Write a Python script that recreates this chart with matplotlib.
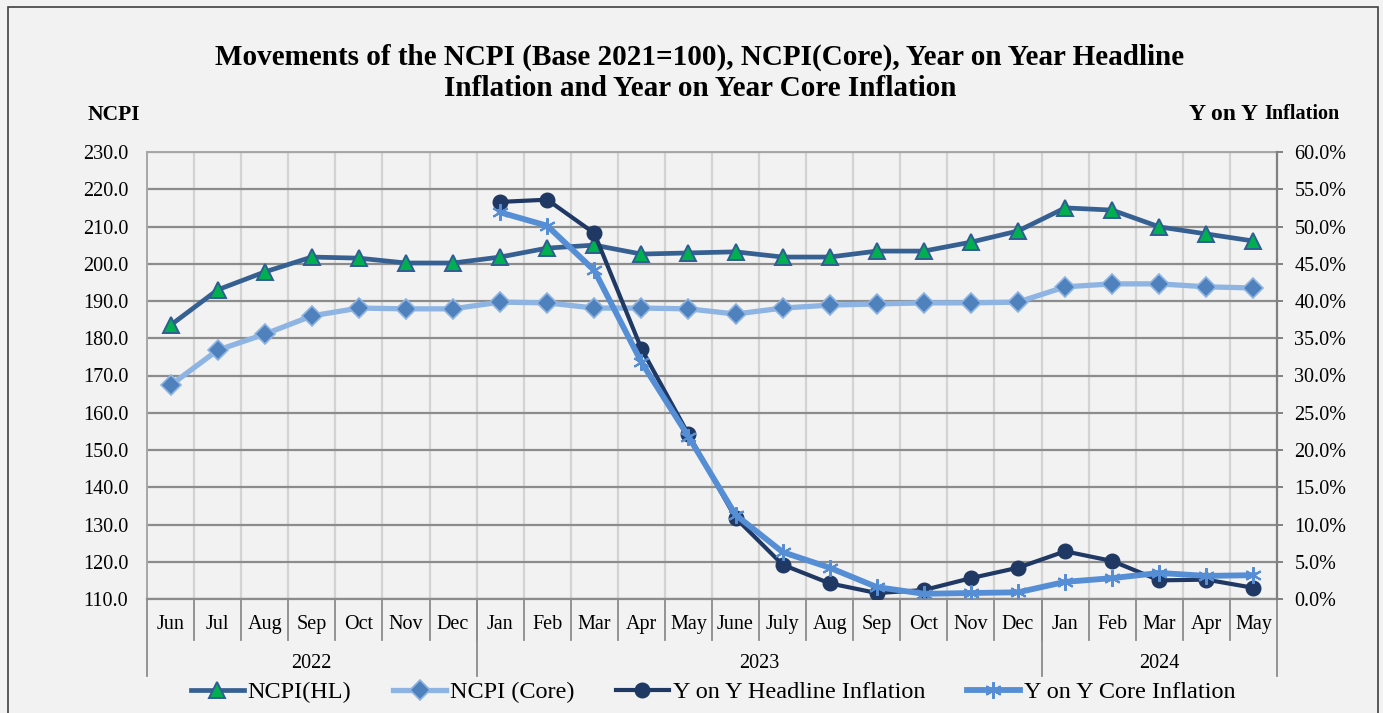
"""NCPI / YoY inflation chart, Excel-like two-axis line chart with grouped month axis."""
import numpy as np
import matplotlib
matplotlib.use("Agg")
import matplotlib.pyplot as plt
from matplotlib.patches import Rectangle

plt.rcParams["font.family"] = ["Liberation Serif", "DejaVu Serif"]

MONTHS = ["Jun", "Jul", "Aug", "Sep", "Oct", "Nov", "Dec",
          "Jan", "Feb", "Mar", "Apr", "May", "June", "July", "Aug", "Sep", "Oct", "Nov", "Dec",
          "Jan", "Feb", "Mar", "Apr", "May"]
YEARS = [("2022", 0, 6), ("2023", 7, 18), ("2024", 19, 23)]

NCPI_HL = [183.5, 193.0, 197.8, 201.8, 201.5, 200.2, 200.2,
           201.8, 204.2, 205.0, 202.6, 202.9, 203.2, 201.8, 201.8, 203.4, 203.4, 205.8, 208.8,
           215.0, 214.4, 209.9, 208.0, 206.1]
NCPI_CORE = [167.4, 176.8, 181.1, 186.0, 188.1, 187.9, 187.9,
             189.7, 189.5, 188.1, 188.1, 187.9, 186.5, 188.1, 188.9, 189.2, 189.5, 189.5, 189.7,
             193.8, 194.6, 194.6, 193.8, 193.5]
YOY_HL = [np.nan] * 7 + [53.3, 53.6, 49.1, 33.6, 22.1, 10.9, 4.6, 2.1, 0.8, 1.2, 2.8, 4.2,
                         6.4, 5.1, 2.5, 2.6, 1.5]
YOY_CORE = [np.nan] * 7 + [51.9, 50.1, 44.1, 31.8, 21.8, 11.3, 6.3, 4.2, 1.6, 0.7, 0.8, 0.9,
                           2.3, 2.8, 3.5, 3.1, 3.2]

BG = "#f2f2f2"
W, H = 1383, 713
FS = 14.5  # tick / category label size


def main():
    fig = plt.figure(figsize=(W / 100, H / 100), dpi=100, facecolor=BG)
    ax = fig.add_axes([147 / W, 1 - 599 / H, (1277 - 147) / W, (599 - 152) / H], facecolor=BG)
    x = np.arange(len(MONTHS))

    # grid
    ax.set_ylim(110, 230)
    ax.set_yticks(np.arange(110, 231, 10))
    ax.set_yticklabels([f"{v:.1f}" for v in np.arange(110, 231, 10)], fontsize=FS)
    ax.yaxis.grid(True, color="#8c8c8c", lw=1.6)
    for i in range(len(MONTHS) - 1):
        ax.axvline(i + 0.5, color="#d3d3d3", lw=1.6, zorder=0.5)
    ax.set_axisbelow(True)
    ax.set_xlim(-0.5, len(MONTHS) - 0.5)
    ax.set_xticks([])
    ax.tick_params(axis="y", length=0, pad=13.5)
    for s in ["left", "top"]:
        ax.spines[s].set_color("#a6a6a6")
        ax.spines[s].set_linewidth(1.4)
    ax.spines["bottom"].set_color("#8c8c8c")
    ax.spines["bottom"].set_linewidth(1.6)
    ax.spines["right"].set_visible(False)

    ax.plot(x, NCPI_HL, color="#366092", lw=3.4, marker="^", ms=11.5,
            mfc="#00b050", mec="#2f5d93", mew=1.4, label="NCPI(HL)", zorder=3)
    ax.plot(x, NCPI_CORE, color="#8db4e2", lw=3.8, marker="D", ms=10,
            mfc="#4f81bd", mec="#8db4e2", mew=1.2, label="NCPI (Core)", zorder=3)

    ax2 = ax.twinx()
    ax2.set_ylim(0, 60)
    ax2.set_yticks(np.arange(0, 61, 5))
    ax2.set_yticklabels([f"{v:.1f}%" for v in np.arange(0, 61, 5)], fontsize=FS)
    ax2.tick_params(axis="y", length=4.5, width=1.4, color="#808080", pad=8)
    for s in ["left", "top", "bottom"]:
        ax2.spines[s].set_visible(False)
    ax2.spines["right"].set_color("#808080")
    ax2.spines["right"].set_linewidth(1.6)

    ax2.plot(x, YOY_HL, color="#1f3864", lw=3.0, marker="o", ms=10.5,
             mfc="#1f3864", mec="#1f3864", label="Y on Y Headline Inflation", zorder=3)
    ax2.plot(x, YOY_CORE, color="#558ed5", lw=4.2, marker=(6, 2, 0), ms=12,
             mec="#558ed5", mew=1.5, label="Y on Y Core Inflation", zorder=3)

    # grouped category axis
    tr = ax.get_xaxis_transform()
    for i, m in enumerate(MONTHS):
        ax.text(i, -0.058, m, transform=tr, ha="center", va="center", fontsize=FS)
    for i in range(len(MONTHS) - 1):
        ax.plot([i + 0.5, i + 0.5], [0, -0.092], transform=tr, color="#8c8c8c",
                lw=1.3, clip_on=False)
    bounds = [-0.5] + [end + 0.5 for _, _, end in YEARS]
    for b in bounds:
        ax.plot([b, b], [0, -0.172], transform=tr, color="#8c8c8c", lw=1.3, clip_on=False)
    for yr, a, b in YEARS:
        ax.text((a + b) / 2, -0.145, yr, transform=tr, ha="center", va="center", fontsize=FS)

    # titles
    fig.text(700 / W, 1 - 57 / H, "Movements of the NCPI (Base 2021=100), NCPI(Core), Year on Year Headline",
             ha="center", va="center", fontsize=21, fontweight="bold")
    fig.text(700 / W, 1 - 89 / H, "Inflation and Year on Year Core Inflation",
             ha="center", va="center", fontsize=21, fontweight="bold")
    fig.text(114 / W, 1 - 115 / H, "NCPI", ha="center", va="center", fontsize=15.5, fontweight="bold")
    fig.text(1263 / W, 1 - 114 / H, "Y on Y ", ha="right", va="center", fontsize=17, fontweight="bold")
    fig.text(1264 / W, 1 - 114 / H, "Inflation", ha="left", va="center", fontsize=14.5, fontweight="bold")

    h1, l1 = ax.get_legend_handles_labels()
    h2, l2 = ax2.get_legend_handles_labels()
    fig.legend(h1 + h2, l1 + l2, loc="center", bbox_to_anchor=(713 / W, 1 - 692 / H), ncol=4,
               frameon=False, fontsize=17.5, handlelength=2.2, handletextpad=0.15,
               columnspacing=1.7, borderaxespad=0)

    fig.patches.append(Rectangle((8 / W, -0.05), (1378 - 8) / W, 1.05 - 7 / H, transform=fig.transFigure,
                                 fill=False, ec="#404040", lw=1.2))
    fig.savefig("out.png", dpi=100, facecolor=BG)
    plt.close(fig)


if __name__ == "__main__":
    main()
